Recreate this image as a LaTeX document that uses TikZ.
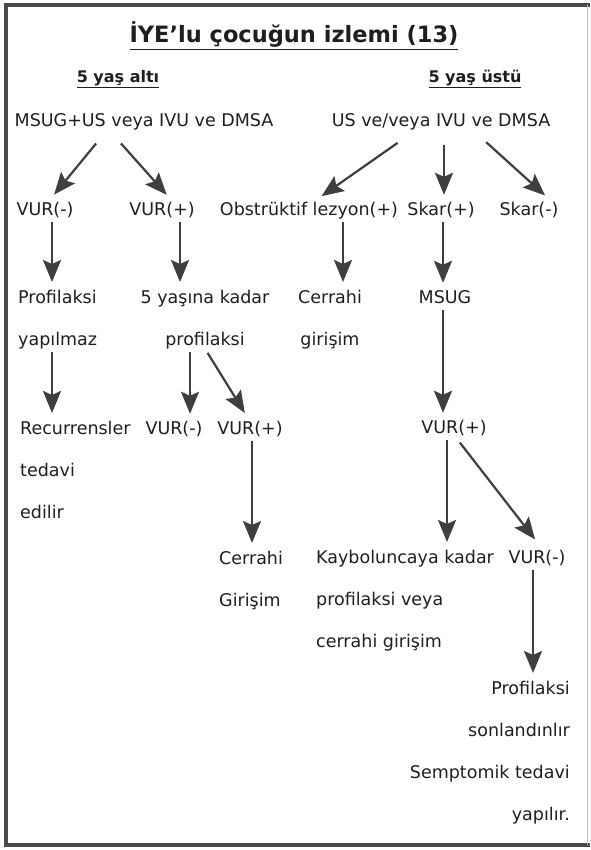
\documentclass[tikz,border=0pt]{standalone}
\usepackage{fontspec}
\setmainfont{DejaVu Sans}
\usetikzlibrary{arrows.meta,positioning}
\definecolor{inkc}{HTML}{1E1E1E}
\definecolor{arrowc}{HTML}{3F3F3F}
\definecolor{framec}{HTML}{4A4A46}
\tikzset{
  txt/.style={inner sep=0pt, text=inkc, font=\fontsize{17.5}{42}\selectfont, text height=12pt, text depth=4pt},
  blk/.style={inner sep=0pt, text=inkc, font=\fontsize{17.5}{42}\selectfont},
  hdr/.style={inner sep=0pt, text=inkc, font=\bfseries\fontsize{16}{20}\selectfont},
  arr/.style={draw=arrowc, line width=2.2pt, -{Stealth[length=22pt,width=18pt,inset=4pt]}, shorten <=3pt, shorten >=8pt}
}

\begin{document}
\begin{tikzpicture}[x=1pt, y=-1pt]
    \useasboundingbox (0,0) rectangle (590,850);
    % frame
    \draw[framec, line width=4pt] (590,5.5) -- (5.5,5.5) -- (5.5,844.5) -- (590,844.5);
    \draw[framec!35, line width=1pt] (587,5) -- (587,845);

    % headings
    \node[inner sep=0pt, text=inkc, font=\bfseries\fontsize{22.5}{26}\selectfont] (title) at (294,36) {\underline{İYE'lu çocuğun izlemi (13)}};
    \node[hdr] (under5) at (118,79) {\underline{5 yaş altı}};
    \node[hdr] (over5) at (475,79) {\underline{5 yaş üstü}};

    % Left side: 5 yas alti
    \node[txt] (rootL) at (144,123) {MSUG+US veya IVU ve DMSA};
    \node[txt] (vurLm) at (45,211) {VUR(-)};
    \node[txt] (vurLp) at (162,211) {VUR(+)};
    \node[blk, align=left, anchor=north west] (profL) at (18,290) {Profilaksi\\yapılmaz};
    \node[blk, align=center, anchor=north] (kadarL) at (205,290) {5 yaşına kadar\\profilaksi};
    \node[blk, align=left, anchor=north west] (recL) at (20,421) {Recurrensler\\tedavi\\edilir};
    \node[txt] (vurLm2) at (174,430) {VUR(-)};
    \node[txt] (vurLp2) at (250,430) {VUR(+)};
    \node[blk, align=left, anchor=north west] (cerL) at (219,551) {Cerrahi\\Girişim};

    \draw[arr] ([shift={(-46,10)}]rootL.south) -- ([shift={(4,-2)}]vurLm.north);
    \draw[arr] ([shift={(-25,10)}]rootL.south) -- ([shift={(10,-2)}]vurLp.north);
    \draw[arr] ([xshift=7pt]vurLm.south) -- ([xshift=7pt]vurLm.south |- profL.north);
    \draw[arr] ([xshift=18pt]vurLp.south) -- ([xshift=18pt]vurLp.south |- kadarL.north);
    \draw[arr] ([xshift=7pt]vurLm.south |- profL.south) -- ([xshift=7pt]vurLm.south |- recL.north);
    \draw[arr] ([xshift=-15pt]kadarL.south) -- ([xshift=-15pt]kadarL.south |- vurLm2.north);
    \draw[arr] ([shift={(1,1)}]kadarL.south) -- ([shift={(-1,-2)}]vurLp2.north);
    \draw[arr] ([xshift=2pt]vurLp2.south) -- ([xshift=2pt]vurLp2.south |- cerL.north);

    % Right side: 5 yas ustu
    \node[txt] (rootR) at (441,123) {US ve/veya IVU ve DMSA};
    \node[txt] (obs) at (309,211) {Obstrüktif lezyon(+)};
    \node[txt] (skarP) at (441,211) {Skar(+)};
    \node[txt] (skarM) at (529,211) {Skar(-)};
    \node[blk, align=center, anchor=north] (cerR) at (330,290) {Cerrahi\\girişim};
    \node[txt] (msug) at (445,299) {MSUG};
    \node[txt] (vurR) at (454,429) {VUR(+)};
    \node[blk, align=left, anchor=north west] (kayb) at (316,550) {Kayboluncaya kadar\\profilaksi veya\\cerrahi girişim};
    \node[txt] (vurRm) at (537,559) {VUR(-)};
    \node[blk, align=right, anchor=north east] (sonR) at (570,681) {Profilaksi\\sonlandınlır\\Semptomik tedavi\\yapılır.};

    \draw[arr] ([shift={(-41,10)}]rootR.south) -- ([shift={(6,-2)}]obs.north);
    \draw[arr] ([shift={(3,11)}]rootR.south) -- ([xshift=3pt]skarP.north);
    \draw[arr] ([shift={(43,9)}]rootR.south) -- ([shift={(22,-2)}]skarM.north);
    \draw[arr] ([xshift=34pt]obs.south) -- ([xshift=34pt]obs.south |- cerR.north);
    \draw[arr] ([xshift=2pt]skarP.south) -- ([xshift=2pt]skarP.south |- msug.north);
    \draw[arr] ([xshift=-2pt]msug.south) -- ([xshift=-2pt]msug.south |- vurR.north);
    \draw[arr] ([xshift=-7pt]vurR.south) -- ([xshift=-7pt]vurR.south |- kayb.north);
    \draw[arr] ([shift={(4,3)}]vurR.south) -- ([shift={(3,-5)}]vurRm.north);
    \draw[arr] ([xshift=-4pt]vurRm.south) -- ([xshift=-4pt]vurRm.south |- sonR.north);
\end{tikzpicture}
\end{document}
